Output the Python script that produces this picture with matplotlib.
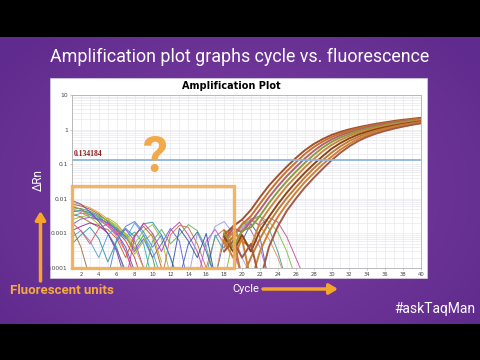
import numpy as np
import matplotlib.pyplot as plt
from matplotlib.patches import Rectangle
from matplotlib.ticker import LogLocator, MultipleLocator, NullFormatter

W, H = 480, 360

# ---- data ----
y_ticks = [0.0001, 0.001, 0.01, 0.1, 1, 10]
y_tick_labels = ["0.0001", "0.001", "0.01", "0.1", "1", "10"]
x_ticks = list(range(2, 41, 2))
threshold = 0.134184

# baseline noise traces, dRn in units of 1e-3, each with its first cycle
noise_start = [1, 1, 1, 1, 1, 1, 1, 1, 1, 1, 1, 1, 1, 1, 1, 1, 1, 1,
               5, 7, 9, 11, 13, 14, 15, 16, 17, 18, 19, 12]
noise_vals = [
    [7.0, 6.2, 5.0, 3.6, 2.2, 1.2, 0.6, 0.2, 0.03],
    [5.5, 5.2, 4.4, 3.3, 2.3, 1.4, 0.8, 0.35, 0.9, 0.2, 0.02],
    [4.2, 4.6, 4.0, 3.0, 1.9, 1.0, 0.4, 0.08],
    [6.0, 5.0, 3.4, 2.5, 1.6, 0.9, 1.3, 0.6, 0.1],
    [3.2, 3.8, 3.6, 2.8, 2.0, 1.3, 0.7, 1.1, 0.5, 0.04],
    [8.0, 6.8, 5.5, 4.0, 2.6, 1.5, 0.9, 0.4, 0.1],
    [2.5, 3.0, 3.4, 3.1, 2.4, 1.7, 1.0, 0.5, 1.2, 1.8, 0.7, 0.06],
    [4.8, 4.0, 2.9, 2.4, 1.8, 0.8, 0.3, 0.05],
    [1.8, 2.6, 2.9, 2.6, 2.0, 1.3, 0.8, 0.3, 0.7, 0.2, 0.5, 1.4, 0.6, 0.03],
    [5.0, 4.4, 3.9, 2.2, 1.0, 0.4, 0.06],
    [3.6, 3.0, 2.1, 1.5, 1.3, 0.7, 0.2, 0.9, 1.6, 0.8, 0.1],
    [1.2, 1.6, 2.0, 1.7, 1.0, 0.3, 0.04],
    [0.8, 1.2, 0.6, 0.2, 0.9, 1.5, 0.7, 2.0, 0.9, 0.3, 0.05],
    [6.6, 4.8, 3.0, 1.8, 2.8, 1.9, 0.9, 0.25, 0.6, 1.0, 0.15],
    [2.0, 1.2, 0.5, 1.4, 1.9, 1.1, 0.3, 0.06],
    [0.5, 0.9, 1.5, 0.7, 0.15, 0.6, 1.4, 0.8, 1.9, 2.1, 0.9, 0.2, 0.04],
    [9.0, 7.0, 4.2, 2.2, 1.0, 0.35, 0.08],
    [1.5, 0.4, 0.05],
    [0.05, 0.7, 1.6, 2.2, 1.1, 0.4, 0.9, 0.2, 0.03],
    [0.04, 0.8, 2.0, 1.0, 0.3, 1.2, 2.1, 0.9, 0.3, 0.05],
    [0.05, 0.6, 1.3, 0.5, 0.9, 1.8, 1.2, 0.4, 0.05],
    [0.04, 0.9, 1.7, 1.5, 0.5, 0.1, 0.8, 1.3, 0.4, 0.05],
    [0.05, 0.5, 1.1, 0.3, 0.05, 0.7, 1.4, 0.6, 1.9, 0.8, 0.04],
    [0.05, 1.0, 0.4, 1.6, 2.2, 1.0, 0.2, 0.06],
    [0.04, 0.6, 1.3, 0.5, 1.7, 2.5, 1.2, 0.4, 0.05],
    [0.06, 0.9, 0.3, 0.8, 1.5, 2.6, 3.2, 1.4, 0.3, 0.04],
    [0.05, 1.1, 0.6, 2.0, 2.8, 1.6, 0.7, 0.2, 0.04],
    [0.04, 0.7, 1.8, 2.4, 3.0, 2.2, 1.1, 0.3, 0.05],
    [0.05, 1.3, 2.4, 1.7, 2.9, 2.1, 0.8, 0.2, 0.05],
    [0.06, 1.4, 0.6, 0.2, 1.0, 0.05],
]
noise_colors = ["#d03a3a", "#3aa53a", "#3a55d0", "#a040c0", "#22b0b0",
                "#d0a020", "#90c040", "#e070b0", "#6060e0", "#40c080",
                "#c06020", "#8030a0", "#50a0e0", "#b0b030", "#e05070",
                "#3090a0", "#7050c0", "#a07030", "#5080d0", "#c040a0",
                "#60b060", "#d07040", "#4060b0", "#90a0e0", "#b060d0",
                "#40a0a0", "#e09050", "#7fbf3f", "#c0508f", "#3050a0"]

# amplified wells, dRn from cycle 18 to 40
amp_start = 18
amp_vals = [
    [0.0009, 0.0016, 0.0025, 0.0048, 0.011, 0.024, 0.046, 0.085, 0.15, 0.25, 0.38, 0.53,
     0.70, 0.86, 1.02, 1.17, 1.32, 1.48, 1.62, 1.78, 1.92, 2.05, 2.2],
    [0.0012, 0.0009, 0.0018, 0.0032, 0.0072, 0.016, 0.033, 0.063, 0.112, 0.195, 0.31, 0.45,
     0.61, 0.77, 0.93, 1.08, 1.23, 1.38, 1.53, 1.67, 1.81, 1.95, 2.1],
    [0.0006, 0.0014, 0.0011, 0.0022, 0.0048, 0.011, 0.023, 0.045, 0.082, 0.145, 0.24, 0.37,
     0.52, 0.68, 0.84, 1.0, 1.15, 1.3, 1.45, 1.6, 1.74, 1.88, 2.0],
    [0.0010, 0.0004, 0.0012, 0.0015, 0.0032, 0.0075, 0.016, 0.032, 0.06, 0.108, 0.185, 0.30,
     0.44, 0.59, 0.75, 0.91, 1.06, 1.21, 1.36, 1.51, 1.65, 1.79, 1.92],
    [0.0005, 0.0011, 0.0006, 0.0004, 0.0021, 0.005, 0.011, 0.023, 0.043, 0.08, 0.14, 0.235,
     0.36, 0.5, 0.66, 0.82, 0.97, 1.12, 1.27, 1.42, 1.56, 1.7, 1.83],
    [0.0008, 0.0003, 0.0009, 0.0003, 0.0012, 0.003, 0.007, 0.015, 0.03, 0.056, 0.1, 0.17,
     0.28, 0.41, 0.56, 0.72, 0.87, 1.02, 1.17, 1.32, 1.46, 1.6, 1.74],
    [0.0004, 0.0008, 0.00005, 0.0002, 0.0007, 0.002, 0.0048, 0.0105, 0.021, 0.041, 0.075, 0.13,
     0.215, 0.33, 0.47, 0.62, 0.78, 0.93, 1.08, 1.23, 1.38, 1.52, 1.66],
    [0.0006, 0.0002, 0.0007, 0.00004, 0.0003, 0.0011, 0.003, 0.007, 0.015, 0.03, 0.055, 0.098,
     0.165, 0.265, 0.39, 0.54, 0.69, 0.85, 1.0, 1.15, 1.3, 1.44, 1.58],
    [0.0003, 0.0006, 0.0002, 0.0005, 0.00004, 0.0004, 0.0016, 0.0045, 0.01, 0.021, 0.04, 0.073,
     0.13, 0.215, 0.33, 0.47, 0.62, 0.77, 0.92, 1.07, 1.22, 1.37, 1.52],
]
amp_colors = ["#a0522d", "#c8702a", "#b5606a", "#8a9a40", "#cd853f",
              "#8b4513", "#c07a3a", "#d08030", "#a35a48"]

# ---- figure ----
fig = plt.figure(figsize=(W / 100, H / 100), dpi=100)

bg = fig.add_axes([0, 0, 1, 1])
bg.set_xlim(0, W)
bg.set_ylim(H, 0)
bg.axis("off")

# purple backdrop, lighter towards the middle
gy, gx = np.mgrid[0:H, 0:W]
d = np.clip(np.hypot((gx - 240) / 300, (gy - 190) / 220), 0, 1)[..., None]
inner = np.array([0x80, 0x40, 0xa4]) / 255
outer = np.array([0x60, 0x2b, 0x8e]) / 255
bg.imshow(inner * (1 - d) + outer * d, extent=(0, W, H, 0), aspect="auto")
bg.add_patch(Rectangle((0, 0), W, 37, fc="black", ec="none"))
bg.add_patch(Rectangle((0, 324), W, 36, fc="black", ec="none"))
bg.add_patch(Rectangle((50, 78), 377, 200, fc="white", ec="#d8d0e0", lw=0.5))

ax = fig.add_axes([72 / W, 1 - 268 / H, (421 - 72) / W, (268 - 95) / H], zorder=1)
ax.set_yscale("log", nonpositive="clip")

for s, v, c in zip(noise_start, noise_vals, noise_colors):
    x = np.arange(s, s + len(v))
    ax.plot(x, np.array(v) * 1e-3, color=c, lw=0.7, alpha=0.9)

for v, c in zip(amp_vals, amp_colors):
    x = np.arange(amp_start, amp_start + len(v))
    ax.plot(x, v, color=c, lw=1.4)

ax.axhline(threshold, color="#8cb4de", lw=1.3)
ax.text(1.15, threshold * 1.1, "0.134184", color="#8b1c1c", fontsize=5.5,
        family="Liberation Serif", fontweight="bold", va="bottom", ha="left")

ax.set_xlim(1, 40)
ax.set_ylim(1e-4, 10)
ax.set_xticks(x_ticks)
ax.set_xticklabels([str(t) for t in x_ticks], fontsize=3.8, color="#444444")
ax.set_yticks(y_ticks)
ax.set_yticklabels(y_tick_labels, fontsize=4.3, color="#444444")
ax.xaxis.set_minor_locator(MultipleLocator(1))
ax.yaxis.set_minor_locator(LogLocator(base=10, subs=np.arange(2, 10)))
ax.yaxis.set_minor_formatter(NullFormatter())
ax.tick_params(which="both", length=1.5, width=0.4, pad=1.5, color="#999999")
ax.tick_params(which="minor", length=0)
ax.grid(which="both", color="#e8e8ef", lw=0.5)
ax.set_axisbelow(True)
for sp in ax.spines.values():
    sp.set_color("#b0b0b0")
    sp.set_linewidth(0.6)

# ---- overlay: titles, annotations ----
ov = fig.add_axes([0, 0, 1, 1], zorder=3)
ov.set_xlim(0, W)
ov.set_ylim(H, 0)
ov.axis("off")

font = "Roboto"
ov.text(240, 57, "Amplification plot graphs cycle vs. fluorescence", color="white",
        fontsize=12.9, family=font, ha="center", va="center")
ov.text(231, 86, "Amplification Plot", color="black", fontsize=7, fontweight="bold",
        ha="center", va="center")
ov.text(38, 180, "ΔRn", color="white", fontsize=8.5, rotation=90,
        ha="center", va="center", family=font)

ov.add_patch(Rectangle((72, 186), 162, 82, fill=False, ec="#f2ae55", lw=2.4, alpha=0.9))
ov.text(155, 159, "?", color="#f2a94a", fontsize=36, fontweight="bold",
        ha="center", va="center", family=font)

orange = "#f5a52a"
ov.annotate("", xy=(40.5, 211), xytext=(40.5, 281),
            arrowprops=dict(arrowstyle="-|>,head_width=0.3,head_length=0.5",
                            color=orange, lw=2.5, shrinkA=0, shrinkB=0))
ov.annotate("", xy=(338, 289), xytext=(263, 289),
            arrowprops=dict(arrowstyle="-|>,head_width=0.3,head_length=0.5",
                            color=orange, lw=2.5, shrinkA=0, shrinkB=0))
ov.text(10, 291, "Fluorescent units", color="#f7a940", fontsize=9.5,
        fontweight="bold", family=font, ha="left", va="center")
ov.text(232, 289, "Cycle", color="white", fontsize=8, family=font,
        ha="left", va="center")
ov.text(475, 309, "#askTaqMan", color="white", fontsize=10, family=font,
        ha="right", va="center")

fig.savefig("out.png", dpi=100)
